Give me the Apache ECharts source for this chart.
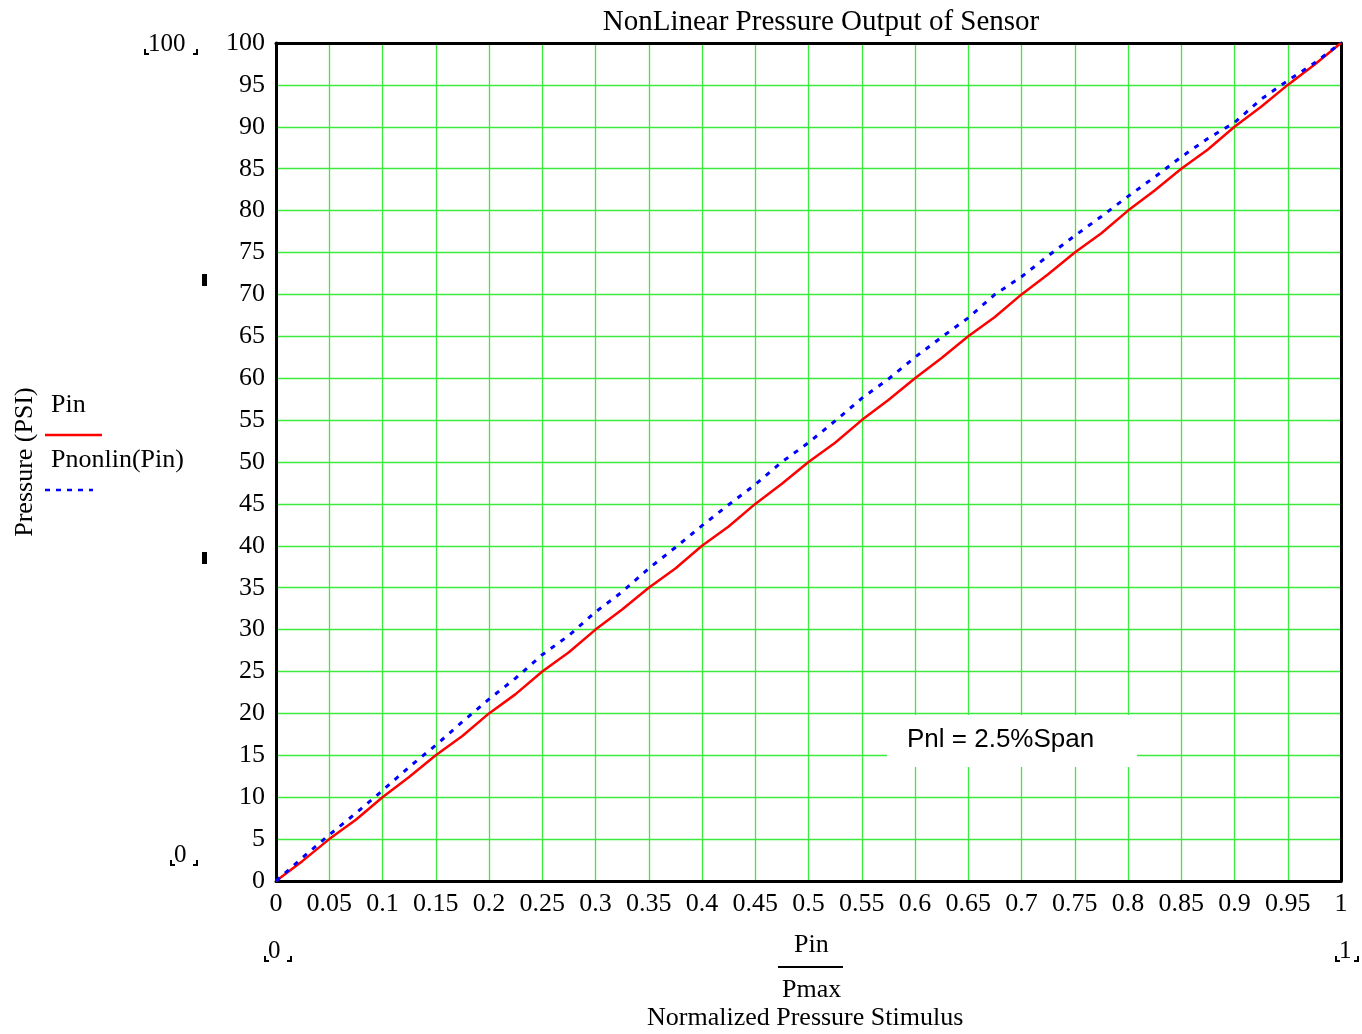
<!DOCTYPE html>
<html>
<head>
<meta charset="utf-8">
<title>NonLinear Pressure Output of Sensor</title>
<script src="https://cdn.jsdelivr.net/npm/echarts@6/dist/echarts.min.js"></script>
<style>
  html, body { margin: 0; padding: 0; background: #fff; }
  #chart { width: 1362px; height: 1034px; }
</style>
</head>
<body>
<div id="chart"></div>
<script>
// normalized stimulus Pin/Pmax
var stimulus = [0, 0.025, 0.05, 0.075, 0.1, 0.125, 0.15, 0.175, 0.2, 0.225, 0.25,
  0.275, 0.3, 0.325, 0.35, 0.375, 0.4, 0.425, 0.45, 0.475, 0.5,
  0.525, 0.55, 0.575, 0.6, 0.625, 0.65, 0.675, 0.7, 0.725, 0.75,
  0.775, 0.8, 0.825, 0.85, 0.875, 0.9, 0.925, 0.95, 0.975, 1]
// Pin (linear), PSI
var pinValues = [0, 2.4, 5, 7.3, 10, 12.4, 15, 17.3, 20, 22.3, 25,
  27.3, 30, 32.4, 35, 37.3, 40, 42.3, 45, 47.4, 50,
  52.3, 55, 57.4, 60, 62.4, 65, 67.3, 70, 72.4, 75,
  77.3, 80, 82.4, 85, 87.3, 90, 92.4, 95, 97.4, 100]
// Pnonlin(Pin), PSI
var pnonlinValues = [0, 2.8, 5.5, 8.1, 10.8, 13.6, 16.2, 19.0, 21.7, 24.2, 27.0,
  29.3, 32.1, 34.5, 37.3, 39.8, 42.4, 44.9, 47.3, 50.0, 52.3,
  54.9, 57.6, 59.9, 62.5, 64.9, 67.2, 70.0, 72.1, 74.6, 77.0,
  79.3, 81.7, 84.0, 86.4, 88.6, 90.5, 93.3, 95.5, 97.6, 100]

var serif = '"Liberation Serif", "Times New Roman", serif'
var gridGreen = '#3cec3c'
var frame = { show: true, onZero: false, lineStyle: { color: '#000', width: 3 } }

function pairs (xs, ys) {
  return xs.map(function (x, i) { return [x, ys[i]] })
}

// little Mathcad range markers: number inside corner brackets
function rangeMark (cx, cy, txt, w) {
  var h = w / 2
  return [
    { type: 'text', left: cx - h + 3, top: cy - 16, style: { text: txt, font: '25px ' + serif, fill: '#000' } },
    { type: 'polyline', shape: { points: [[cx - h, cy + 1], [cx - h, cy + 6], [cx - h + 4, cy + 6]] }, style: { stroke: '#000', lineWidth: 2, fill: null } },
    { type: 'polyline', shape: { points: [[cx + h, cy + 1], [cx + h, cy + 6], [cx + h - 4, cy + 6]] }, style: { stroke: '#000', lineWidth: 2, fill: null } }
  ]
}

var chart = echarts.init(document.getElementById('chart'))

var graphics = [
  // legend
  { type: 'text', left: 51, top: 392, style: { text: 'Pin', font: '26px ' + serif, fill: '#000' } },
  { type: 'line', shape: { x1: 45, y1: 435, x2: 102, y2: 435 }, style: { stroke: '#ff0000', lineWidth: 2.5 } },
  { type: 'text', left: 51, top: 447, style: { text: 'Pnonlin(Pin)', font: '26px ' + serif, fill: '#000' } },
  { type: 'line', shape: { x1: 45, y1: 490, x2: 93, y2: 490 }, style: { stroke: '#0000ff', lineWidth: 2.5, lineDash: [5, 6] } },
  // x axis name as a fraction
  { type: 'text', left: 794, top: 932, style: { text: 'Pin', font: '26px ' + serif, fill: '#000' } },
  { type: 'line', shape: { x1: 778, y1: 967, x2: 843, y2: 967 }, style: { stroke: '#000', lineWidth: 2 } },
  { type: 'text', left: 782, top: 977, style: { text: 'Pmax', font: '26px ' + serif, fill: '#000' } },
  { type: 'text', left: 647, top: 1005, style: { text: 'Normalized Pressure Stimulus', font: '26px ' + serif, fill: '#000' } },
  // annotation
  { type: 'rect', shape: { x: 887, y: 715, width: 250, height: 52 }, style: { fill: '#fff' }, z: 10 },
  { type: 'text', left: 907, top: 727, z: 11, style: { text: 'Pnl = 2.5%Span', font: '26px "Liberation Sans", Arial, sans-serif', fill: '#000' } },
  // small marks on the left
  { type: 'rect', shape: { x: 202, y: 274, width: 5, height: 12 }, style: { fill: '#000' } },
  { type: 'rect', shape: { x: 202, y: 552, width: 5, height: 12 }, style: { fill: '#000' } }
]
graphics = graphics
  .concat(rangeMark(171, 48, '100', 52))
  .concat(rangeMark(184, 859, '0', 26))
  .concat(rangeMark(278, 955, '0', 26))
  .concat(rangeMark(1347, 955, '1', 22))

var option = {
  backgroundColor: '#fff',
  animation: false,
  title: {
    text: 'NonLinear Pressure Output of Sensor',
    left: 816,
    textAlign: 'center',
    top: 3,
    textStyle: { fontFamily: serif, fontSize: 29, fontWeight: 'normal', color: '#000' }
  },
  grid: {
    left: 276,
    right: 21,
    top: 43,
    bottom: 153
  },
  xAxis: [
    {
      type: 'value',
      min: 0,
      max: 1,
      interval: 0.05,
      axisLine: frame,
      axisTick: { show: false },
      axisLabel: { color: '#000', fontFamily: serif, fontSize: 26, margin: 10 },
      splitLine: { show: true, lineStyle: { color: gridGreen, width: 1.3 } }
    },
    {
      type: 'value',
      position: 'top',
      min: 0,
      max: 1,
      interval: 0.05,
      axisLine: frame,
      axisTick: { show: false },
      axisLabel: { show: false },
      splitLine: { show: false }
    }
  ],
  yAxis: [
    {
      type: 'value',
      min: 0,
      max: 100,
      interval: 5,
      name: 'Pressure (PSI)',
      nameLocation: 'middle',
      nameGap: 238,
      nameTextStyle: { fontFamily: serif, fontSize: 26, color: '#000' },
      axisLine: frame,
      axisTick: { show: false },
      axisLabel: { color: '#000', fontFamily: serif, fontSize: 26, margin: 11, padding: [8, 0, 0, 0] },
      splitLine: { show: true, lineStyle: { color: gridGreen, width: 1.3 } }
    },
    {
      type: 'value',
      position: 'right',
      min: 0,
      max: 100,
      interval: 5,
      axisLine: frame,
      axisTick: { show: false },
      axisLabel: { show: false },
      splitLine: { show: false }
    }
  ],
  series: [
    {
      name: 'Pin',
      type: 'line',
      data: pairs(stimulus, pinValues),
      showSymbol: false,
      lineStyle: { color: '#ff0000', width: 2.5 },
      z: 3
    },
    {
      name: 'Pnonlin(Pin)',
      type: 'line',
      data: pairs(stimulus, pnonlinValues),
      showSymbol: false,
      lineStyle: { color: '#0000ff', width: 3, type: [5, 7] },
      z: 4
    }
  ],
  graphic: graphics
}
chart.setOption(option)
</script>
</body>
</html>
